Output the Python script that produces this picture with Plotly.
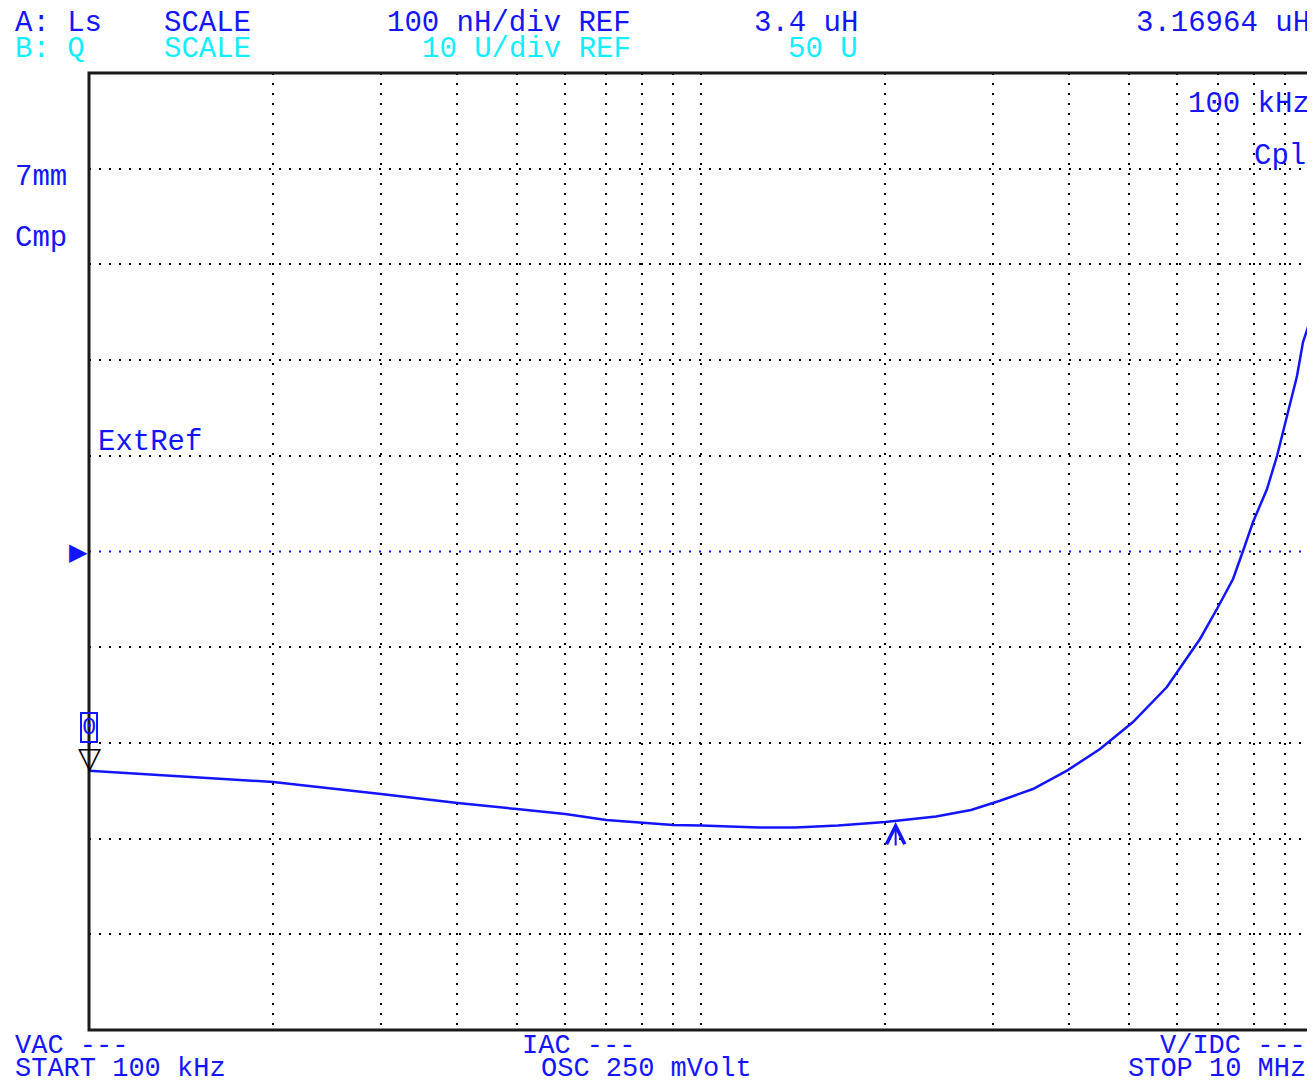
import numpy as np
import plotly.graph_objects as go

# ---------------- data ----------------
# Ls trace (A) : frequency in Hz, inductance in uH
freq_hz = [1.0e5, 2.0e5, 3.0e5, 4.0e5, 5.0e5, 6.0e5, 7.0e5, 8.0e5, 9.0e5, 1.0e6,
           1.244e6, 1.424e6, 1.674e6, 2.0e6, 2.421e6, 2.762e6, 3.08e6, 3.486e6,
           3.963e6, 4.487e6, 5.08e6, 5.771e6, 6.537e6, 6.967e6, 7.402e6, 7.685e6,
           7.98e6, 8.411e6, 8.734e6, 9.068e6, 9.416e6, 9.631e6, 9.85e6, 1.0e7]
ls_uh = [3.1710, 3.1591, 3.1466, 3.1372, 3.1309, 3.1257, 3.1194, 3.1168, 3.1142, 3.1137,
         3.1116, 3.1116, 3.1137, 3.1173, 3.1231, 3.1299, 3.1396, 3.1518,
         3.1710, 3.1936, 3.2218, 3.2584, 3.3086, 3.3399, 3.3713, 3.4005,
         3.4308, 3.4653, 3.4998, 3.5416, 3.5834, 3.6189, 3.6380, 3.6500]

# display settings
ref_uh = 3.4             # REF 3.4 uH
scale_uh = 0.1           # 100 nH/div
n_div = 10
start_hz = 1.0e5
stop_hz = 1.0e7
marker_hz = [1.0e5]      # marker "0"
pointer_hz = [2.08e6]    # up-arrow pointer

grid_freqs = [2e5, 3e5, 4e5, 5e5, 6e5, 7e5, 8e5, 9e5,
              1e6, 2e6, 3e6, 4e6, 5e6, 6e6, 7e6, 8e6, 9e6]
grid_levels = [3.0, 3.1, 3.2, 3.3, 3.5, 3.6, 3.7, 3.8]

# ---------------- styling ----------------
BLUE = "#1414ff"
CYAN = "#10eeff"
FONT = "Liberation Mono"
FS = 29
FS_FOOT = 27

OFF = 8                      # default page body margin
W, H = 1315 - OFF, 1086 - OFF
L_M, R_M, T_M, B_M = 89 - OFF, 2, 73 - OFF, 56
PW = W - L_M - R_M
PH = H - T_M - B_M


def px(x):
    # x: screen pixel in the window
    return (x - OFF - L_M) / PW


def py(y):
    return (H - B_M - (y - OFF)) / PH


fig = go.Figure()

fig.add_trace(go.Scatter(
    x=freq_hz, y=ls_uh, mode="lines",
    line=dict(color=BLUE, width=2.5),
    hoverinfo="skip", showlegend=False,
))

y_lo = ref_uh - scale_uh * n_div / 2
y_hi = ref_uh + scale_uh * n_div / 2

DOTS = "2px,8px"

fig.update_layout(
    width=W, height=H,
    margin=dict(l=L_M, r=R_M, t=T_M, b=B_M),
    paper_bgcolor="white", plot_bgcolor="white",
    showlegend=False,
    xaxis=dict(type="log", range=[np.log10(start_hz), np.log10(stop_hz)],
               tickvals=grid_freqs, showticklabels=False, ticks="",
               showgrid=True, gridcolor="black", gridwidth=2, griddash=DOTS,
               zeroline=False, showline=False, fixedrange=True),
    yaxis=dict(range=[y_lo, y_hi], tickvals=grid_levels,
               showticklabels=False, ticks="",
               showgrid=True, gridcolor="black", gridwidth=2, griddash=DOTS,
               zeroline=False, showline=False, fixedrange=True),
)

# reference line (blue dotted)
fig.add_shape(type="line", xref="paper", yref="y", x0=0, x1=1,
              y0=ref_uh, y1=ref_uh, line=dict(color=BLUE, width=2, dash=DOTS),
              layer="below")
# frame
fig.add_shape(type="rect", xref="paper", yref="paper", x0=0, x1=1, y0=0, y1=1,
              line=dict(color="#1a1a1a", width=3), layer="above")


def txt(s, x, y, color=BLUE, anchor="left", size=FS, family=FONT):
    fig.add_annotation(text=s, x=px(x), y=py(y), xref="paper", yref="paper",
                       xanchor=anchor, yanchor="middle", showarrow=False,
                       borderpad=0,
                       font=dict(family=family, size=size, color=color))


# header
txt("A: Ls", 14, 24)
txt("SCALE", 163, 24)
txt("100 nH/div REF", 632, 24, anchor="right")
txt("3.4 uH", 859, 24, anchor="right")
txt("3.16964 uH", 1311, 24, anchor="right")
txt("B: Q", 14, 49, color=CYAN)
txt("SCALE", 163, 49, color=CYAN)
txt("10 U/div REF", 632, 49, color=CYAN, anchor="right")
txt("50 U", 859, 49, color=CYAN, anchor="right")

# side labels
txt("7mm", 14, 177)
txt("Cmp", 14, 238)
txt("ExtRef", 97, 442)
txt("100 kHz", 1311, 105, anchor="right")
txt("Cpl", 1307, 156, anchor="right")

# footer
txt("VAC ---", 14, 1046, size=FS_FOOT)
txt("START 100 kHz", 14, 1069, size=FS_FOOT)
txt("IAC ---", 521, 1046, size=FS_FOOT)
txt("OSC 250 mVolt", 540, 1069, size=FS_FOOT)
txt("V/IDC ---", 1307, 1046, anchor="right", size=FS_FOOT)
txt("STOP 10 MHz", 1307, 1069, anchor="right", size=FS_FOOT)

# reference level pointer at left edge
fig.add_annotation(text="\u25B6", x=0, y=ref_uh, xref="paper", yref="y",
                   xanchor="right", yanchor="middle", showarrow=False, xshift=1,
                   font=dict(family="DejaVu Sans", size=24, color=BLUE))

# marker 0 at start of trace
log_f = np.log10(freq_hz)
m_x = marker_hz[0]
m_y = float(np.interp(np.log10(m_x), log_f, ls_uh))
fig.add_annotation(text="\u25BD", x=np.log10(m_x), y=m_y, xref="x", yref="y",
                   xanchor="center", yanchor="bottom", showarrow=False, yshift=-6,
                   font=dict(family="DejaVu Sans", size=30, color="black"))
fig.add_annotation(text="0", x=np.log10(m_x), y=m_y, xref="x", yref="y",
                   xanchor="center", yanchor="bottom", showarrow=False, yshift=28,
                   bordercolor=BLUE, borderwidth=2, borderpad=0,
                   font=dict(family=FONT, size=24, color=BLUE))

# up-arrow pointer
p_x = pointer_hz[0]
p_y = float(np.interp(np.log10(p_x), log_f, ls_uh))
fig.add_annotation(text="", x=np.log10(p_x), y=p_y, xref="x", yref="y",
                   showarrow=True, ax=0, ay=26, arrowhead=5, arrowsize=1.8,
                   arrowwidth=2, arrowcolor=BLUE, standoff=1)

fig.write_html("out.html")
